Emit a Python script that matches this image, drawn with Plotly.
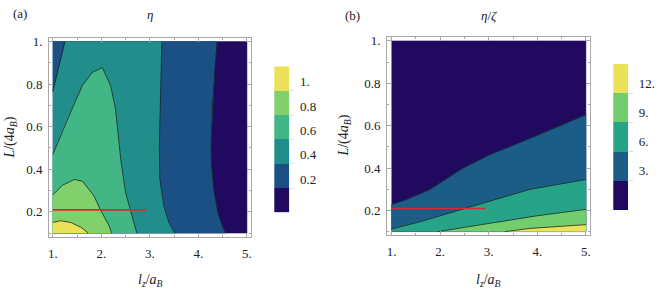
import plotly.graph_objects as go

# ---------------- data ----------------
X_MIN, X_MAX = 1.0, 5.0          # l_z / a_B
Y_MIN, Y_MAX = 0.1, 1.0          # L / (4 a_B)

# panel (a): eta, contour levels and colours
A_LEVELS = [0.2, 0.4, 0.6, 0.8, 1.0]
A_LEVEL_LABELS = ["0.2", "0.4", "0.6", "0.8", "1."]
A_COLORS = ["#20095f", "#1b5085", "#218e8b", "#42b785", "#82d06b", "#ebe25a"]

A_C02_X = [4.56, 4.49, 4.40, 4.315, 4.267, 4.26, 4.294, 4.335, 4.384]
A_C02_Y = [0.10, 0.135, 0.197, 0.305, 0.429, 0.515, 0.716, 0.871, 1.00]
A_C04_X = [3.51, 3.39, 3.287, 3.205, 3.195, 3.219, 3.246]
A_C04_Y = [0.10, 0.151, 0.228, 0.352, 0.510, 0.794, 1.00]
A_C04B_X = [1.00, 1.13, 1.247]
A_C04B_Y = [0.766, 0.887, 1.00]
A_C06_X = [1.00, 1.23, 1.37, 1.61, 1.815, 1.93, 2.02, 2.19, 2.29, 2.33, 2.40, 2.50, 2.64, 2.73]
A_C06_Y = [0.47, 0.60, 0.670, 0.794, 0.856, 0.868, 0.878, 0.794, 0.685, 0.60, 0.445, 0.29, 0.166, 0.10]
A_C08_X = [1.00, 1.20, 1.44, 1.61, 1.85, 1.99, 2.16, 2.21]
A_C08_Y = [0.28, 0.325, 0.352, 0.344, 0.274, 0.205, 0.135, 0.10]
A_C10_X = [1.00, 1.16, 1.37, 1.58, 1.73]
A_C10_Y = [0.15, 0.158, 0.15, 0.127, 0.10]

# panel (b): eta / zeta
B_LEVELS = [3, 6, 9, 12]
B_LEVEL_LABELS = ["3.", "6.", "9.", "12."]
B_COLORS = ["#20095f", "#1b5d87", "#27a487", "#72cd6e", "#ebe25a"]

B_C3_X = [1.00, 1.31, 1.79, 2.47, 3.02, 3.53, 4.18, 5.00]
B_C3_Y = [0.228, 0.252, 0.299, 0.400, 0.463, 0.509, 0.571, 0.652]
B_C6_X = [1.00, 1.58, 1.99, 3.02, 3.84, 5.00]
B_C6_Y = [0.112, 0.146, 0.174, 0.244, 0.299, 0.346]
B_C9_X = [1.95, 3.02, 3.97, 5.00]
B_C9_Y = [0.10, 0.140, 0.174, 0.205]
B_C12_X = [3.33, 3.84, 5.00]
B_C12_Y = [0.10, 0.115, 0.133]

# red marker line (same in both panels)
RED_X = [1.0, 2.93]
RED_Y = [0.209, 0.209]

X_TICKS = [1, 2, 3, 4, 5]
X_TICK_LABELS = ["1.", "2.", "3.", "4.", "5."]
Y_TICKS = [0.2, 0.4, 0.6, 0.8, 1.0]
Y_TICK_LABELS = ["0.2", "0.4", "0.6", "0.8", "1."]

# ---------------- figure ----------------
W, H = 664, 290
def fx(px): return px / W
def fy(py): return 1 - py / H

FONT = "Liberation Serif"
TXT = "#222222"
FRAME = "#a8a8a8"
LINE_C = "rgba(20,35,35,0.8)"

fig = go.Figure()

def poly(xs, ys, color, xa, ya):
    fig.add_trace(go.Scatter(x=xs, y=ys, fill="toself", fillcolor=color, mode="lines",
                             line=dict(color=color, width=0.5), hoverinfo="skip",
                             showlegend=False, xaxis=xa, yaxis=ya))

def cline(xs, ys, xa, ya, color=LINE_C, width=1.0):
    fig.add_trace(go.Scatter(x=xs, y=ys, mode="lines", line=dict(color=color, width=width),
                             hoverinfo="skip", showlegend=False, xaxis=xa, yaxis=ya))

# panel (a) fills, from lowest band upward
poly([X_MIN, X_MAX, X_MAX, X_MIN], [Y_MIN, Y_MIN, Y_MAX, Y_MAX], A_COLORS[0], "x", "y")
poly([X_MIN] + A_C02_X + [X_MIN], [Y_MIN] + A_C02_Y + [Y_MAX], A_COLORS[1], "x", "y")
poly([X_MIN] + A_C04_X + [X_MIN], [Y_MIN] + A_C04_Y + [Y_MAX], A_COLORS[2], "x", "y")
poly(A_C04B_X + [X_MIN], A_C04B_Y + [Y_MAX], A_COLORS[1], "x", "y")
poly([X_MIN] + A_C06_X, [Y_MIN] + A_C06_Y, A_COLORS[3], "x", "y")
poly([X_MIN] + A_C08_X, [Y_MIN] + A_C08_Y, A_COLORS[4], "x", "y")
poly([X_MIN] + A_C10_X, [Y_MIN] + A_C10_Y, A_COLORS[5], "x", "y")
for xs, ys in [(A_C02_X, A_C02_Y), (A_C04_X, A_C04_Y), (A_C04B_X, A_C04B_Y),
               (A_C06_X, A_C06_Y), (A_C08_X, A_C08_Y), (A_C10_X, A_C10_Y)]:
    cline(xs, ys, "x", "y")
cline(RED_X, RED_Y, "x", "y", color="#e3262b", width=1.6)

# panel (b) fills
poly([X_MIN, X_MAX, X_MAX, X_MIN], [Y_MIN, Y_MIN, Y_MAX, Y_MAX], B_COLORS[0], "x2", "y2")
poly([X_MIN] + B_C3_X + [X_MAX], [Y_MIN] + B_C3_Y + [Y_MIN], B_COLORS[1], "x2", "y2")
poly([X_MIN] + B_C6_X + [X_MAX], [Y_MIN] + B_C6_Y + [Y_MIN], B_COLORS[2], "x2", "y2")
poly(B_C9_X + [X_MAX], B_C9_Y + [Y_MIN], B_COLORS[3], "x2", "y2")
poly(B_C12_X + [X_MAX], B_C12_Y + [Y_MIN], B_COLORS[4], "x2", "y2")
for xs, ys in [(B_C3_X, B_C3_Y), (B_C6_X, B_C6_Y), (B_C9_X, B_C9_Y), (B_C12_X, B_C12_Y)]:
    cline(xs, ys, "x2", "y2")
cline(RED_X, RED_Y, "x2", "y2", color="#e3262b", width=1.6)

# colour legends as small heatmaps
def legend_bar(colors, xa, ya):
    n = len(colors)
    fig.add_trace(go.Heatmap(z=[[i] for i in range(n)], x=[0], y=[i + 0.5 for i in range(n)],
                             colorscale=[[i / (n - 1), c] for i, c in enumerate(colors)],
                             zmin=0, zmax=n - 1, showscale=False, hoverinfo="skip",
                             xaxis=xa, yaxis=ya))
legend_bar(A_COLORS, "x3", "y3")
legend_bar(B_COLORS, "x4", "y4")

def frame_x(domain, anchor, rng):
    return dict(domain=domain, anchor=anchor, range=rng, showline=True, mirror="allticks",
                linecolor=FRAME, linewidth=1, ticks="inside", ticklen=4, tickcolor=FRAME,
                tickvals=X_TICKS, ticktext=X_TICK_LABELS, showgrid=False, zeroline=False,
                tickfont=dict(family=FONT, size=13, color=TXT), ticklabelstandoff=5,
                minor=dict(ticks="inside", ticklen=2, tickcolor=FRAME, dtick=0.5, tick0=0))

def frame_y(domain, anchor, rng):
    return dict(domain=domain, anchor=anchor, range=rng, showline=True, mirror="allticks",
                linecolor=FRAME, linewidth=1, ticks="inside", ticklen=4, tickcolor=FRAME,
                tickvals=Y_TICKS, ticktext=Y_TICK_LABELS, showgrid=False, zeroline=False,
                tickfont=dict(family=FONT, size=13, color=TXT), ticklabelstandoff=3,
                minor=dict(ticks="inside", ticklen=2, tickcolor=FRAME, dtick=0.1, tick0=0))

def bar_y(domain, anchor, n, vals, labels, shift):
    return dict(domain=domain, anchor=anchor, range=[0, n], side="right", showline=False,
                showgrid=False, zeroline=False, ticks="outside", ticklen=4, tickcolor="#dddddd",
                tickvals=vals, ticktext=labels, ticklabelshift=shift, ticklabelstandoff=3,
                tickfont=dict(family=FONT, size=13, color=TXT))

fig.update_layout(
    width=W, height=H, autosize=False,
    margin=dict(l=0, r=0, t=0, b=0),
    paper_bgcolor="white", plot_bgcolor="white",
    xaxis=frame_x([fx(48.3), fx(250.7)], "y", [0.924, 5.082]),
    yaxis=frame_y([fy(236), fy(35)], "x", [0.0837, 1.0186]),
    xaxis2=frame_x([fx(387.3), fx(590.7)], "y2", [0.91, 5.082]),
    yaxis2=frame_y([fy(234.3), fy(34)], "x2", [0.0846, 1.020]),
    xaxis3=dict(domain=[fx(274), fx(289.3)], anchor="y3", range=[-0.5, 0.5], visible=False),
    yaxis3=bar_y([fy(211.7), fy(64)], "x3", len(A_COLORS), [1, 2, 3, 4, 5], A_LEVEL_LABELS, -9),
    xaxis4=dict(domain=[fx(614), fx(629)], anchor="y4", range=[-0.5, 0.5], visible=False),
    yaxis4=bar_y([fy(209.3), fy(61.7)], "x4", len(B_COLORS), [1, 2, 3, 4], B_LEVEL_LABELS, -10),
)

def ann(text, px, py, size=13, angle=0):
    fig.add_annotation(text=text, x=fx(px), y=fy(py), xref="paper", yref="paper",
                       showarrow=False, textangle=angle, xanchor="center", yanchor="middle",
                       font=dict(family=FONT, size=size, color=TXT))

ann("(a)", 19, 11)
ann("<i>η</i>", 149.5, 12)
ann("(b)", 353, 13)
ann("<i>η</i>/<i>ζ</i>", 489, 13)
ann("<i>l</i><sub><i>z</i></sub>/<i>a</i><sub><i>B</i></sub>", 149.5, 280, size=14)
ann("<i>l</i><sub><i>z</i></sub>/<i>a</i><sub><i>B</i></sub>", 489, 280, size=14)
ann("<i>L</i>/(4<i>a</i><sub><i>B</i></sub>)", 10, 136, size=14, angle=-90)
ann("<i>L</i>/(4<i>a</i><sub><i>B</i></sub>)", 345, 134, size=14, angle=-90)

fig.write_html("out.html", config={"displayModeBar": False},
               post_script="document.body.style.margin='0';document.body.style.overflow='hidden';")
